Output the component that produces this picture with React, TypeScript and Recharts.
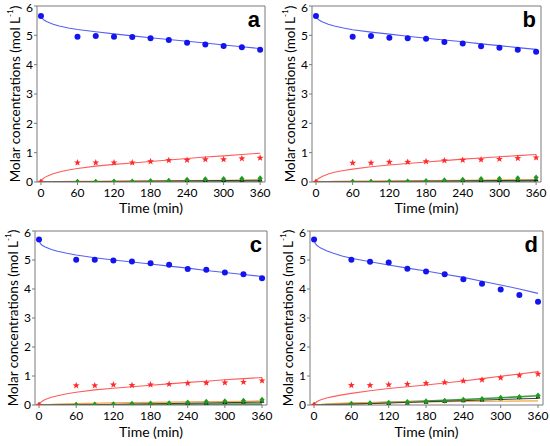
import React from "react";
import { ComposedChart, Line, XAxis, YAxis, ReferenceLine } from "recharts";

// sampling times (min)
const times = [0, 60, 90, 120, 150, 180, 210, 240, 270, 300, 330, 360];
const fitTimes = [0, 2, 5, 10, 20, 30, 45, 60, 90, 120, 150, 180, 210, 240, 270, 300, 330, 360];
const minorTimes = [0, 30, 60, 120, 180, 240, 300, 360];
const xTicks = [0, 60, 120, 180, 240, 300, 360];
const yTicks = [0, 1, 2, 3, 4, 5, 6];

// measured points
const blueA = [5.66, 4.95, 4.98, 4.95, 4.94, 4.9, 4.84, 4.75, 4.69, 4.64, 4.59, 4.51];
const blueB = [5.66, 4.95, 4.98, 4.92, 4.9, 4.88, 4.77, 4.72, 4.63, 4.58, 4.51, 4.44];
const blueC = [5.71, 5.01, 5.01, 4.98, 4.95, 4.89, 4.84, 4.69, 4.66, 4.57, 4.51, 4.37];
const blueD = [5.71, 5.01, 4.94, 4.91, 4.7, 4.6, 4.51, 4.34, 4.18, 3.98, 3.79, 3.56];

const redA = [0, 0.66, 0.66, 0.66, 0.66, 0.7, 0.74, 0.75, 0.77, 0.77, 0.8, 0.82];
const redB = [0, 0.65, 0.65, 0.68, 0.68, 0.7, 0.73, 0.75, 0.76, 0.78, 0.81, 0.83];
const redC = [0, 0.67, 0.67, 0.7, 0.68, 0.7, 0.72, 0.75, 0.76, 0.77, 0.79, 0.84];
const redD = [0, 0.68, 0.68, 0.7, 0.72, 0.75, 0.78, 0.83, 0.87, 0.94, 1.02, 1.07];

const greenA = [0, 0.01, 0.01, 0.02, 0.02, 0.03, 0.04, 0.08, 0.09, 0.1, 0.11, 0.13];
const greenB = [0, 0.01, 0.01, 0.02, 0.02, 0.03, 0.06, 0.08, 0.1, 0.11, 0.13, 0.15];
const greenC = [0, 0.01, 0.02, 0.03, 0.04, 0.05, 0.06, 0.09, 0.11, 0.13, 0.15, 0.18];
const greenD = [0, 0.04, 0.06, 0.08, 0.1, 0.13, 0.15, 0.18, 0.21, 0.25, 0.28, 0.33];

const blackA = [0, 0.01, 0.01, 0.01, 0.02, 0.02, 0.03, 0.04, 0.05, 0.05, 0.06, 0.07];
const blackB = [0, 0.01, 0.01, 0.01, 0.02, 0.02, 0.03, 0.04, 0.05, 0.06, 0.07, 0.08];
const blackC = [0, 0.01, 0.01, 0.02, 0.02, 0.03, 0.04, 0.06, 0.07, 0.09, 0.11, 0.13];
const blackD = [0, 0.02, 0.04, 0.05, 0.07, 0.1, 0.12, 0.15, 0.18, 0.22, 0.26, 0.28];

// model curves
const blueFitA = [5.7, 5.58, 5.52, 5.46, 5.38, 5.32, 5.25, 5.2, 5.12, 5.05, 4.98, 4.92, 4.86, 4.8, 4.74, 4.67, 4.61, 4.55];
const blueFitB = [5.7, 5.58, 5.52, 5.46, 5.38, 5.32, 5.25, 5.19, 5.11, 5.04, 4.97, 4.9, 4.84, 4.78, 4.71, 4.65, 4.58, 4.52];
const blueFitC = [5.7, 5.57, 5.51, 5.45, 5.36, 5.3, 5.23, 5.17, 5.08, 5.0, 4.93, 4.86, 4.79, 4.72, 4.64, 4.57, 4.5, 4.43];
const blueFitD = [5.7, 5.57, 5.5, 5.42, 5.32, 5.24, 5.14, 5.06, 4.94, 4.83, 4.72, 4.62, 4.51, 4.4, 4.27, 4.14, 4.0, 3.85];

const redFitA = [0, 0.08, 0.14, 0.2, 0.28, 0.34, 0.41, 0.46, 0.54, 0.6, 0.65, 0.7, 0.75, 0.8, 0.85, 0.89, 0.94, 0.98];
const redFitB = [0, 0.08, 0.13, 0.19, 0.27, 0.33, 0.39, 0.44, 0.52, 0.58, 0.63, 0.68, 0.73, 0.78, 0.82, 0.86, 0.9, 0.94];
const redFitC = [0, 0.08, 0.13, 0.19, 0.27, 0.32, 0.39, 0.44, 0.52, 0.58, 0.63, 0.68, 0.73, 0.78, 0.82, 0.87, 0.91, 0.95];
const redFitD = [0, 0.07, 0.12, 0.17, 0.24, 0.29, 0.35, 0.4, 0.49, 0.57, 0.63, 0.69, 0.76, 0.83, 0.91, 0.99, 1.07, 1.15];

const orangeFitA = [0, 0.01, 0.02, 0.03, 0.04, 0.05, 0.06, 0.07];
const orangeFitB = [0, 0.02, 0.03, 0.04, 0.05, 0.06, 0.07, 0.08];
const orangeFitC = [0, 0.03, 0.05, 0.07, 0.09, 0.11, 0.12, 0.14];
const orangeFitD = [0, 0.05, 0.07, 0.1, 0.11, 0.12, 0.13, 0.14];

const greenFitA = [0, 0, 0, 0.01, 0.01, 0.01, 0.02, 0.02];
const greenFitB = [0, 0, 0, 0.01, 0.01, 0.02, 0.02, 0.03];
const greenFitC = [0, 0, 0.01, 0.01, 0.02, 0.02, 0.03, 0.03];
const greenFitD = [0, 0.02, 0.04, 0.09, 0.14, 0.19, 0.25, 0.32];

const blackFitA = [0, 0.01, 0.01, 0.02, 0.03, 0.04, 0.05, 0.06];
const blackFitB = [0, 0.01, 0.01, 0.02, 0.03, 0.04, 0.05, 0.06];
const blackFitC = [0, 0.01, 0.01, 0.02, 0.04, 0.06, 0.08, 0.1];
const blackFitD = [0, 0.02, 0.03, 0.07, 0.11, 0.15, 0.19, 0.23];

const zip = (ts: number[], vs: number[]) => ts.map((t, i) => ({ t, v: vs[i] }));

const FONT = "Lato, 'Open Sans', sans-serif";
const AXIS = "#7a7a7a";

const panels = [
  { id: "a", left: 0, top: 0, h: 220, yw: 37, mr: 10, lab: 7,
    blue: blueA, red: redA, green: greenA, black: blackA,
    blueFit: blueFitA, redFit: redFitA, orangeFit: orangeFitA, greenFit: greenFitA, blackFit: blackFitA },
  { id: "b", left: 275, top: 0, h: 220, yw: 37, mr: 9, lab: 7,
    blue: blueB, red: redB, green: greenB, black: blackB,
    blueFit: blueFitB, redFit: redFitB, orangeFit: orangeFitB, greenFit: greenFitB, blackFit: blackFitB },
  { id: "c", left: 0, top: 225, h: 221, yw: 35, mr: 8, lab: 9,
    blue: blueC, red: redC, green: greenC, black: blackC,
    blueFit: blueFitC, redFit: redFitC, orangeFit: orangeFitC, greenFit: greenFitC, blackFit: blackFitC },
  { id: "d", left: 275, top: 225, h: 221, yw: 35, mr: 7, lab: 9,
    blue: blueD, red: redD, green: greenD, black: blackD,
    blueFit: blueFitD, redFit: redFitD, orangeFit: orangeFitD, greenFit: greenFitD, blackFit: blackFitD },
];

function starPath(cx: number, cy: number, ro: number, ri: number) {
  let d = "";
  for (let k = 0; k < 10; k++) {
    const r = k % 2 === 0 ? ro : ri;
    const a = -Math.PI / 2 + (k * Math.PI) / 5;
    d += (k === 0 ? "M" : "L") + (cx + r * Math.cos(a)).toFixed(2) + "," + (cy + r * Math.sin(a)).toFixed(2);
  }
  return d + "Z";
}

const BlueDot = (p: any) => <circle key={p.index} cx={p.cx} cy={p.cy} r={3} fill="#1414f0" />;
const RedStar = (p: any) => <path key={p.index} d={starPath(p.cx, p.cy, 3.6, 1.5)} fill="#ff2a2a" />;
const GreenDia = (p: any) => (
  <path key={p.index} d={`M${p.cx},${p.cy - 3}L${p.cx + 2.6},${p.cy}L${p.cx},${p.cy + 3}L${p.cx - 2.6},${p.cy}Z`} fill="#1f9a1f" />
);
const BlackDot = (p: any) => (
  <path key={p.index} d={`M${p.cx},${p.cy - 2.6}L${p.cx + 2.4},${p.cy + 1.6}L${p.cx - 2.4},${p.cy + 1.6}Z`} fill="#111" />
);

const YLabel = (props: any) => {
  const vb = props.viewBox || {};
  const x = vb.x + vb.width - 22;
  const y = vb.y + vb.height / 2;
  return (
    <text x={x} y={y} transform={`rotate(-90, ${x}, ${y})`} textAnchor="middle" dominantBaseline="central"
      fontFamily={FONT} fontSize={13.5} fill="#000">
      Molar concentrations (mol L
      <tspan baselineShift="super" fontSize={8}>-1</tspan>
      )
    </text>
  );
};

function Panel({ p }: { p: (typeof panels)[number] }) {
  const plotH = p.h - 6 - (p.top === 0 ? 38 : 41);
  return (
    <div style={{ position: "absolute", left: p.left, top: p.top }}>
      <ComposedChart width={275} height={p.h} margin={{ top: 6, right: p.mr, left: 0, bottom: 0 }}>
        <XAxis
          type="number"
          dataKey="t"
          domain={[-6.5, 368]}
          ticks={xTicks}
          allowDataOverflow
          height={p.h - 6 - plotH}
          stroke={AXIS}
          tickSize={3}
          tickMargin={3}
          tick={{ fill: "#000", fontSize: 12, fontFamily: FONT }}
          label={{ value: "Time (min)", position: "insideBottom", offset: p.lab, fill: "#000", fontSize: 14, fontFamily: FONT }}
        />
        <YAxis
          type="number"
          dataKey="v"
          domain={[0, 6]}
          ticks={yTicks}
          allowDataOverflow
          width={p.yw}
          stroke={AXIS}
          tickSize={3}
          tickMargin={1}
          tick={{ fill: "#000", fontSize: 12, fontFamily: FONT }}
          label={<YLabel />}
        />
        <ReferenceLine y={6} stroke={AXIS} />
        <ReferenceLine
          x={368}
          stroke={AXIS}
          label={{ value: p.id, position: "insideTopRight", offset: 5, fill: "#000", fontSize: 22, fontWeight: "bold", fontFamily: "'Liberation Sans', Arial, sans-serif" }}
        />
        <Line data={zip(minorTimes, p.greenFit)} dataKey="v" stroke="#3c9c3c" strokeWidth={1.6} dot={false} isAnimationActive={false} />
        <Line data={zip(minorTimes, p.orangeFit)} dataKey="v" stroke="#f3a640" strokeWidth={1.2} dot={false} isAnimationActive={false} />
        <Line data={zip(minorTimes, p.blackFit)} dataKey="v" stroke="#3a3a3a" strokeWidth={1} dot={false} isAnimationActive={false} />
        <Line data={zip(fitTimes, p.blueFit)} dataKey="v" stroke="#5560f2" strokeWidth={1.1} dot={false} isAnimationActive={false} />
        <Line data={zip(fitTimes, p.redFit)} dataKey="v" stroke="#ff5c5c" strokeWidth={1.1} dot={false} isAnimationActive={false} />
        <Line data={zip(times, p.black)} dataKey="v" stroke="none" dot={BlackDot} activeDot={false} isAnimationActive={false} />
        <Line data={zip(times, p.green)} dataKey="v" stroke="none" dot={GreenDia} activeDot={false} isAnimationActive={false} />
        <Line data={zip(times, p.red)} dataKey="v" stroke="none" dot={RedStar} activeDot={false} isAnimationActive={false} />
        <Line data={zip(times, p.blue)} dataKey="v" stroke="none" dot={BlueDot} activeDot={false} isAnimationActive={false} />
      </ComposedChart>
    </div>
  );
}

export default function App() {
  return (
    <div style={{ position: "absolute", left: 0, top: 0, width: 550, height: 446, background: "#fff" }}>
      {panels.map((p) => (
        <Panel key={p.id} p={p} />
      ))}
    </div>
  );
}
